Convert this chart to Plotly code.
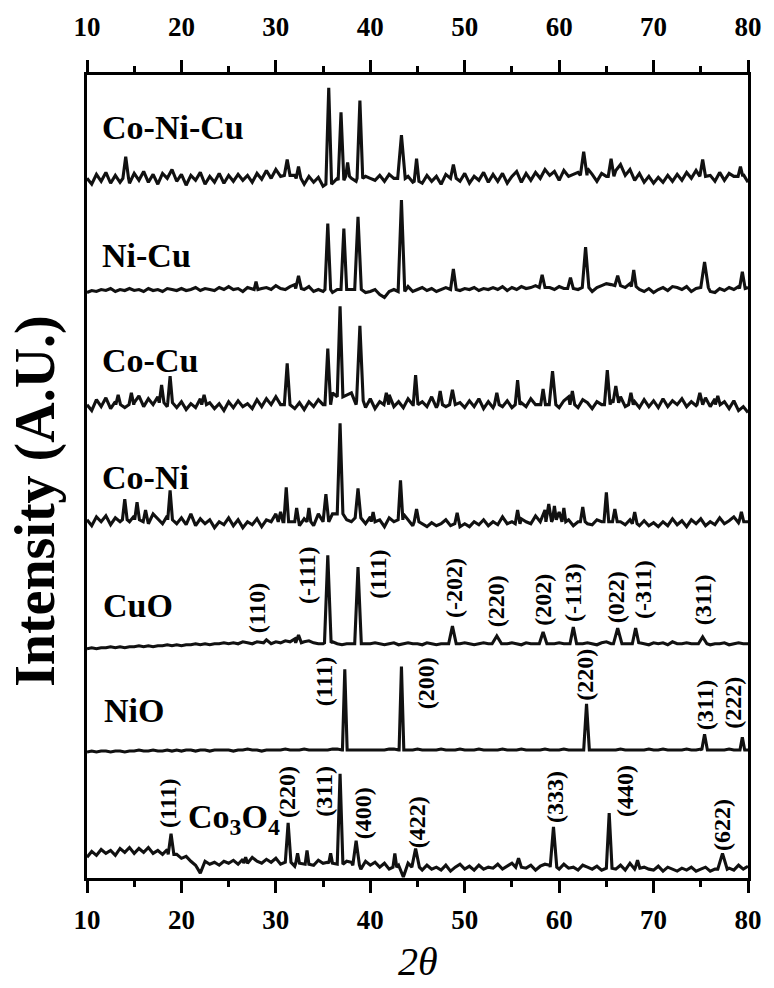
import plotly.graph_objects as go

# ---------------- data (intensities in arbitrary units) ----------------
X_GRID = [10 + 0.5 * i for i in range(141)]  # 2theta grid of background readings

SAMPLES = ["Co-Ni-Cu", "Ni-Cu", "Co-Cu", "Co-Ni", "CuO", "NiO", "Co<sub>3</sub>O<sub>4</sub>"]
OFFSETS = [711, 598, 481, 362, 238, 130, 11]

BG_CONICU = [0,-6,4,-3,6,-5,3,-4,2,-5, 5,-2,7,-4,4,-6,5,0,9,-3, 4,-7,3,-2,6,-6,2,-4,5,-5,
             3,-3,4,-2,3,-4,5,-1,8,0, 9,2,6,-2,3,8,-6,2,-4,1, -8,0,-5,0,0,8,0,-3,0,2,
             0,-2,3,-3,4,0,0,3,2,-4, 0,-5,3,-3,2,-6,4,0,0,-3, 5,-5,2,-2,6,-4,4,-3,5,-5,
             2,7,-4,5,-2,6,0,9,3,7, -2,8,2,4,6,0,10,4,-3,5, 2,0,8,14,3,9,-2,5,-4,2,
             -5,1,-4,3,-3,4,-2,6,0,8, 4,0,3,-3,6,-2,5,2,10,4, -4]
PK_CONICU = [(14.1,22,0,.3),(31.2,19,3,.3),(32.4,12,0,.25),(35.6,92,-6,.3),(36.9,67,-2,.3),
             (37.6,16,2,.2),(38.9,79,0,.3),(43.3,44,0,.4),(44.9,20,-3,.25),(48.8,14,0,.3),
             (62.6,27,3,.35),(65.5,20,2,.3),(75.2,19,2,.3),(79.2,12,2,.25)]

BG_NICU = [-3,-1,-2,0,-1,1,-2,0,-1,1, -1,0,-2,1,-1,0,-2,1,0,-1, 1,-1,0,2,-1,1,0,-1,2,0,
           3,0,1,-2,2,0,3,1,2,0, 4,1,0,3,5,2,0,3,-2,0, -2,0,-3,0,-3,0,0,-4,0,-3,
           -2,0,-5,-8,-2,0,0,0,3,-2, 0,2,-1,1,-2,0,2,-1,0,-1, 1,0,2,-1,1,0,2,0,3,-1,
           2,0,3,1,2,4,0,8,2,0, 3,1,2,5,0,0,1,-2,2,4, 6,5,8,3,2,6,8,0,-2,1,
           -3,0,2,-1,3,2,0,3,-2,1, 0,0,-2,-3,1,-1,2,0,3,0, 2]
PK_NICU = [(27.9,8,0,.2),(32.4,14,1,.3),(35.5,67,0,.3),(37.2,62,0,.3),(38.7,74,0,.35),
           (43.3,91,-2,.35),(48.8,21,0,.3),(58.2,15,2,.3),(61.2,12,1,.3),(62.8,43,2,.35),
           (66.2,14,4,.3),(67.9,20,3,.25),(75.4,28,2,.4),(79.4,18,1,.3)]

BG_COCU = [0,-6,5,-2,7,-4,3,8,-3,6, 2,9,-2,6,0,8,4,-2,5,-3, 3,-5,1,-3,6,-6,2,-4,1,-6,
           3,-3,4,-2,1,-4,5,-2,6,0, 8,0,-3,4,-4,2,-5,3,-2,5, 0,0,12,0,8,10,12,0,0,-3,
           6,-4,3,-5,10,-2,3,-3,6,0, -4,3,-2,8,-3,5,-2,4,-4,2, -3,4,-2,6,-4,3,-3,5,-2,4,
           -3,0,2,-2,6,0,0,-2,-4,3, -3,4,8,0,-3,5,2,-4,3,0, 0,5,0,8,-2,9,3,-3,5,-2,
           4,-3,6,-2,4,0,6,-2,3,-1, 2,7,-2,6,0,3,-4,4,-6,-2, -8]
PK_COCU = [(13.3,10,0,.25),(14.7,12,0,.25),(17.9,20,2,.25),(18.8,29,2,.25),(22.4,10,0,.25),
           (31.2,42,0,.3),(35.5,57,0,.3),(36.8,100,8,.3),(38.9,80,4,.35),(41.7,12,0,.25),
           (44.8,30,0,.25),(47.4,14,0,.25),(48.7,15,0,.3),(53.4,12,0,.25),(55.6,25,0,.25),
           (58.3,16,0,.25),(59.3,34,0,.35),(61.4,14,0,.25),(65.1,35,0,.3),(66.0,19,2,.3),
           (67.6,12,0,.25),(74.9,12,0,.3),(76.8,9,0,.25)]

BG_CONI = [2,-4,5,0,6,-3,4,0,8,0, 6,0,4,-2,8,3,-2,6,0,-2, 4,-3,8,-4,3,-2,2,-6,0,-3,
           4,-4,2,-6,0,-3,3,-5,2,0, 8,0,0,0,12,-4,3,14,-4,8, 0,0,8,0,4,2,0,-4,6,-2,
           5,-3,2,-5,4,0,0,8,2,-4, -6,-2,-5,-1,-4,-2,2,-4,0,-5, -2,-5,0,-3,2,-4,0,-3,5,-2,
           0,-3,3,0,-2,6,0,12,6,0, 10,0,2,-4,0,4,-2,-3,2,0, 0,0,10,0,-3,2,-2,-4,1,-4,
           -1,-5,0,-4,3,-3,1,-5,2,-2, 3,-4,0,-3,4,-2,1,5,-1,4, 0]
PK_CONI = [(14.0,23,2,.25),(15.3,20,2,.25),(16.2,12,0,.25),(18.8,32,2,.25),(30.5,10,0,.25),
           (31.1,35,0,.25),(32.2,14,0,.2),(33.5,14,0,.2),(35.3,28,0,.3),(36.8,100,8,.3),
           (38.7,34,4,.3),(40.3,10,0,.2),(43.2,42,2,.25),(44.9,13,0,.25),(49.2,9,-2,.25),
           (55.6,12,-2,.25),(58.9,18,0,.3),(59.5,16,2,.2),(60.5,14,0,.2),(62.5,15,0,.25),
           (65.0,30,0,.25),(65.9,13,0,.25),(68.0,10,-2,.25),(79.3,10,0,.25)]

BG_CUO = [-5,-4,-5,-4,-4,-3,-4,-3,-4,-3, -3,-2,-3,-2,-3,-2,-2,-1,-2,-1, -2,-1,-1,0,-1,0,-1,0,0,1,
          0,1,0,2,1,0,2,1,3,0, 2,1,3,2,5,0,2,3,1,0, 0,0,2,0,-1,0,0,0,0,0,
          0,1,0,-1,0,1,-1,0,1,0, 0,-1,1,0,-1,0,0,0,0,0, 1,0,-1,0,1,0,-1,1,0,0,
          1,0,-1,1,0,0,1,2,0,0, 1,0,0,0,0,0,1,0,-1,1, 2,0,0,0,0,0,0,1,0,-1,
          1,0,1,-1,2,0,0,1,0,0, 1,0,-1,0,0,1,-1,0,1,0, 0]
PK_CUO = [(29.0,4,1,.3),(32.4,9,1,.3),(35.5,90,1,.35),(38.7,78,0,.35),(48.7,18,0,.4),
          (53.4,8,0,.5),(58.3,12,0,.4),(61.5,17,0,.35),(66.2,16,0,.45),(68.1,16,0,.35),
          (75.2,7,0,.45)]

BG_NIO = [-2,-1,-2,-1,-1,-2,-1,-1,-2,-1, -1,0,-1,-1,0,-1,-1,0,-1,0, -1,0,0,-1,0,0,-1,0,0,0,
          0,-1,0,0,1,0,0,-1,0,0, 0,0,1,0,0,0,1,0,0,0, 0,0,1,1,0,0,0,0,0,0,
          0,0,0,0,1,1,0,0,0,0, 1,0,0,0,0,1,0,0,0,1, 0,0,0,1,0,0,0,0,1,0,
          0,0,1,0,0,0,0,1,0,0, 0,1,0,0,0,0,1,0,0,0, 0,0,0,1,0,0,0,0,0,1,
          0,0,1,0,0,0,0,1,0,0, 1,0,0,0,0,0,1,0,0,0, 0]
PK_NIO = [(37.3,82,0,.25),(43.3,85,0,.25),(62.9,47,0,.3),(75.4,16,0,.3),(79.4,13,0,.25)]

BG_CO3O4 = [10,16,12,18,14,17,12,19,15,20, 14,19,15,20,14,17,13,18,14,13, 9,11,6,2,-6,6,3,5,2,6,
            4,7,3,8,5,10,6,4,8,5, 9,3,6,12,1,8,3,6,2,7, 4,5,8,3,0,6,5,8,-2,6,
            2,5,0,4,-2,3,2,-10,4,-4, 6,-3,2,-2,0,-3,2,-4,0,3, -2,1,-3,2,-2,0,-1,3,-2,1,
            4,-2,6,-1,2,-3,1,3,2,0, -2,3,-1,0,-3,2,0,-2,1,-3, 0,0,-2,2,-3,4,-2,-4,0,-2,
            -3,1,-4,0,-2,-4,-1,-3,0,-4, -2,0,-4,-2,-3,0,-1,-3,2,-2, 1]
PK_CO3O4 = [(18.9,34,13,.3),(26.8,10,4,.2),(31.3,45,5,.3),(32.3,14,4,.2),(33.3,17,3,.2),
            (35.8,14,4,.2),(36.8,95,3,.3),(38.5,27,2,.35),(42.6,14,0,.2),(44.8,19,0,.4),
            (55.7,9,0,.3),(59.4,41,0,.35),(65.3,55,-1,.3),(68.3,7,-1,.25),(77.3,14,-2,.5)]

BACKGROUNDS = [BG_CONICU, BG_NICU, BG_COCU, BG_CONI, BG_CUO, BG_NIO, BG_CO3O4]
PEAKS = [PK_CONICU, PK_NICU, PK_COCU, PK_CONI, PK_CUO, PK_NIO, PK_CO3O4]

# peak index labels: (text, 2theta, height above panel baseline)
HKL_CUO = [("(110)",28.0,37),("(-111)",33.3,69),("(111)",40.8,71),("(-202)",48.8,57),
           ("(220)",53.4,43),("(202)",58.2,45),("(-113)",61.4,52),("(022)",66.0,47),
           ("(-311)",68.8,55),("(311)",75.2,45)]
HKL_NIO = [("(111)",35.1,69),("(200)",45.9,68),("(220)",62.8,76),("(311)",75.4,46),("(222)",78.4,48)]
HKL_CO3O4 = [("(111)",18.65,65),("(220)",31.24,76),("(311)",35.13,77),("(400)",39.25,55),
             ("(422)",44.97,46),("(333)",59.63,71),("(440)",67.05,77),("(622)",77.26,43)]
HKL = {4: HKL_CUO, 5: HKL_NIO, 6: HKL_CO3O4}

# sample-name label positions: (2theta of left edge, height above panel baseline)
NAME_POS = [(11.37,52),(11.37,35),(11.37,45),(11.37,45),(11.5,39),(11.6,40),(20.45,49)]

TICKS = list(range(10, 81, 10))

# ---------------- figure ----------------
SERIF = "Liberation Serif"
INK = "#111111"


def build(bg, peaks):
    pts = [(x, y) for x, y in zip(X_GRID, bg)
           if all(abs(x - p) > hw + 1e-9 for p, _, _, hw in peaks)]
    for p, top, foot, hw in peaks:
        pts += [(p - hw, foot), (p, top), (p + hw, foot)]
    pts.sort()
    return [a for a, _ in pts], [b for _, b in pts]


fig = go.Figure()
for name, off, bg, pk in zip(SAMPLES, OFFSETS, BACKGROUNDS, PEAKS):
    xs, ys = build(bg, pk)
    fig.add_trace(go.Scatter(x=xs, y=[v + off for v in ys], mode="lines",
                             line=dict(color=INK, width=3.1), name=name,
                             showlegend=False, hoverinfo="skip"))
# companion trace so that the top axis is drawn
fig.add_trace(go.Scatter(x=[10, 80], y=[None, None], xaxis="x2", mode="lines",
                         showlegend=False, hoverinfo="skip"))

ann = []
for i, (name, off) in enumerate(zip(SAMPLES, OFFSETS)):
    nx, ny = NAME_POS[i]
    ann.append(dict(x=nx, y=off + ny, xref="x", yref="y", text=name, showarrow=False,
                    xanchor="left", yanchor="middle",
                    font=dict(family=SERIF, size=34, color="black", weight="bold")))
for i, lst in HKL.items():
    for txt, tx, ty in lst:
        ann.append(dict(x=tx, y=OFFSETS[i] + ty, xref="x", yref="y", text=txt,
                        showarrow=False, textangle=-90, xanchor="center", yanchor="middle",
                        font=dict(family=SERIF, size=24, color="black", weight="bold")))
ann.append(dict(x=-0.078, y=0.47, xref="paper", yref="paper", text="Intensity (A.U.)",
                showarrow=False, textangle=-90, xanchor="center", yanchor="middle",
                font=dict(family=SERIF, size=56, color="black", weight="bold")))
ann.append(dict(x=0.5, y=-0.104, xref="paper", yref="paper", text="<i>2θ</i>",
                showarrow=False, xanchor="center", yanchor="middle",
                font=dict(family=SERIF, size=40, color="black")))

axis_common = dict(range=[10, 80], tickvals=TICKS, ticks="outside", ticklen=12,
                   tickwidth=2.5, tickcolor="black", showline=True, linewidth=3,
                   linecolor="black", showgrid=False, zeroline=False,
                   tickfont=dict(family=SERIF, size=27, color="black", weight="bold"),
                   minor=dict(dtick=5, tick0=10, ticks="outside", ticklen=6,
                              tickwidth=2.5, tickcolor="black", showgrid=False))

fig.update_layout(
    width=774, height=988,
    margin=dict(l=87, r=24, t=62, b=110),
    paper_bgcolor="white", plot_bgcolor="white",
    xaxis=dict(**axis_common, side="bottom", ticklabelstandoff=4),
    xaxis2=dict(**axis_common, side="top", overlaying="x", ticklabelstandoff=13),
    yaxis=dict(range=[0, 816], showline=True, linewidth=3, linecolor="black", mirror=True,
               showticklabels=False, ticks="", showgrid=False, zeroline=False),
)
fig.update_layout(annotations=ann)

fig.write_html("out.html")
